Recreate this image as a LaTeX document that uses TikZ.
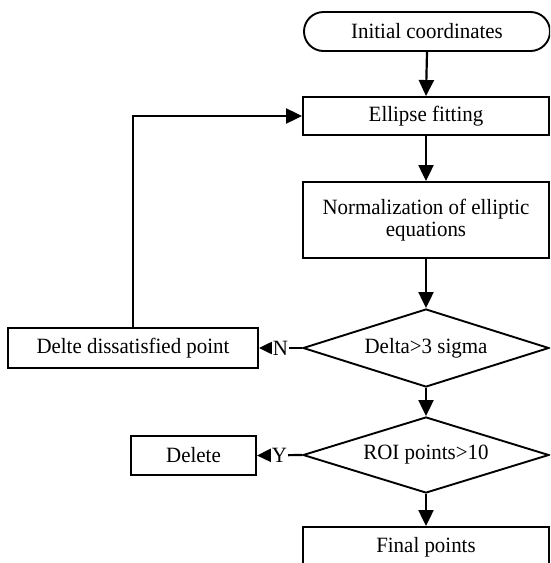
\documentclass[tikz,border=0pt]{standalone}
\usepackage{fontspec}
\setmainfont[FakeStretch=0.96]{Liberation Serif}
\usetikzlibrary{shapes.geometric,shapes.misc,arrows.meta}
\begin{document}
\begin{tikzpicture}[x=1pt,y=-1pt,
  font=\fontsize{21.8}{22}\selectfont,
  line width=1.9pt,
  box/.style={draw, rectangle, minimum width=246pt, minimum height=38pt, inner sep=0pt, align=center},
  term/.style={draw, rounded rectangle, minimum width=246pt, minimum height=39pt, inner sep=0pt},
  decision/.style={draw, diamond, aspect=3.2, minimum width=246pt, minimum height=78pt, inner sep=0pt},
  arr/.style={line width=2.2pt, -{Triangle[length=16pt,width=15pt]}},
  lab/.style={fill=white, inner sep=1pt}]
\useasboundingbox (0,0) rectangle (550,563);
\clip (0,0) rectangle (550,563);
\node[term] (init) at (427,31.5) {Initial coordinates};
\node[box] (fit) at (426,116) {Ellipse fitting};
\node[box, minimum height=76pt] (norm) at (426,220) {Normalization of elliptic\\equations};
\node[decision] (d1) at (426,348) {Delta>3 sigma};
\node[decision, minimum height=76pt] (d2) at (426,455) {ROI points>10};
\node[box, minimum height=40pt] (fin) at (426,547) {Final points};
\node[box, minimum width=250pt, minimum height=40pt] (del1) at (133,348) {Delte dissatisfied point};
\node[box, minimum width=125pt, minimum height=39pt] (del2) at (193.5,455.5) {Delete};
\draw[arr] (init.south) -- (fit.north);
\draw[arr] (fit.south) -- (norm.north);
\draw[arr] (norm.south) -- (d1.north);
\draw[arr] (d1.south) -- (d2.north);
\draw[arr] (d2.south) -- (fin.north);
\draw[arr] (d1.west) -- node[lab]{N} (del1.east);
\draw[arr] (d2.west) -- node[lab]{Y} (del2.east);
\draw[arr] (del1.north) -- (del1.north |- fit.west) -- (fit.west);
\end{tikzpicture}
\end{document}
